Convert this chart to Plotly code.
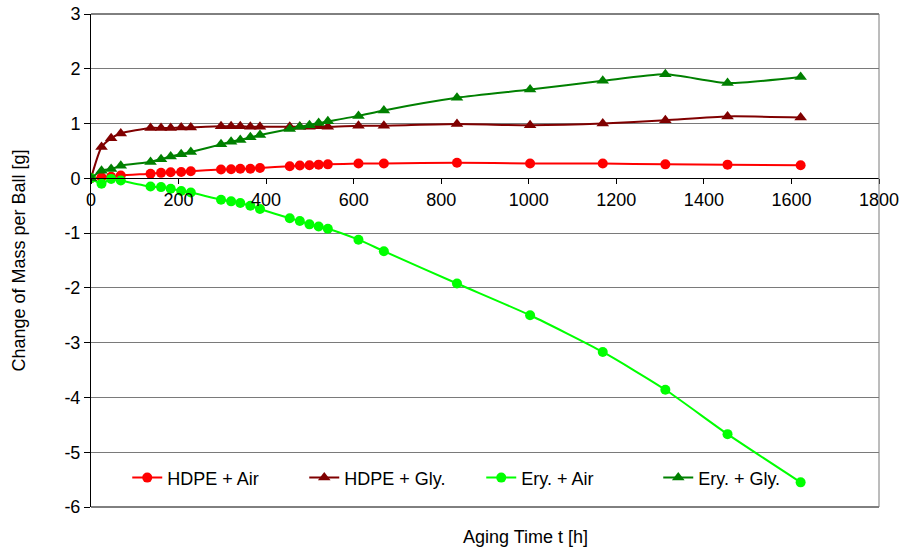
import plotly.graph_objects as go

time_h = [0, 24, 46, 68, 136, 160, 182, 206, 228, 297, 320, 341, 364, 386,
          454, 477, 499, 520, 541, 611, 669, 836, 1003, 1169, 1312, 1454, 1621]

hdpe_air = [0, 0.02, 0.03, 0.05, 0.085, 0.10, 0.11, 0.115, 0.13, 0.16, 0.165, 0.175, 0.175, 0.19,
            0.22, 0.235, 0.24, 0.25, 0.255, 0.27, 0.27, 0.285, 0.27, 0.27, 0.255, 0.25, 0.24]

hdpe_gly = [0, 0.57, 0.73, 0.82, 0.92, 0.92, 0.92, 0.93, 0.93, 0.95, 0.95, 0.95, 0.94, 0.94,
            0.94, 0.94, 0.94, 0.95, 0.94, 0.96, 0.96, 0.99, 0.97, 1.00, 1.06, 1.13, 1.11]

ery_air = [0, -0.10, -0.01, -0.04, -0.15, -0.16, -0.19, -0.23, -0.26, -0.39, -0.42, -0.45, -0.50, -0.56,
           -0.73, -0.78, -0.84, -0.88, -0.92, -1.12, -1.33, -1.92, -2.50, -3.17, -3.86, -4.67, -5.55]

ery_gly = [0, 0.14, 0.17, 0.23, 0.30, 0.35, 0.40, 0.44, 0.48, 0.62, 0.67, 0.70, 0.75, 0.79,
           0.90, 0.94, 0.97, 1.01, 1.04, 1.14, 1.24, 1.47, 1.62, 1.78, 1.90, 1.74, 1.85]

series_names = ["HDPE + Air", "HDPE + Gly.", "Ery. + Air", "Ery. + Gly."]
series_values = [hdpe_air, hdpe_gly, ery_air, ery_gly]
series_colors = ["#FF0000", "#800000", "#00FF00", "#008000"]
series_symbols = ["circle", "triangle-up", "circle", "triangle-up"]

x_ticks = [0, 200, 400, 600, 800, 1000, 1200, 1400, 1600, 1800]
y_ticks = [-6, -5, -4, -3, -2, -1, 0, 1, 2, 3]

FONT = "Liberation Sans, Arial, sans-serif"
FS = 18

fig = go.Figure()
for name, vals, col, sym in zip(series_names, series_values, series_colors, series_symbols):
    fig.add_trace(go.Scatter(
        x=time_h, y=vals, name=name, mode="lines+markers",
        line=dict(color=col, width=2, shape="spline", smoothing=0.6),
        marker=dict(color=col, symbol=sym, size=10 if sym == "circle" else 11),
    ))

fig.update_layout(
    width=904, height=552,
    margin=dict(l=91, r=25, t=14, b=45),
    paper_bgcolor="white", plot_bgcolor="white",
    font=dict(family=FONT, size=FS, color="black"),
    showlegend=True,
    legend=dict(orientation="h", x=0.046, y=0.059, xanchor="left", yanchor="middle",
                bgcolor="rgba(0,0,0,0)", font=dict(size=FS), entrywidth=132,
                itemwidth=30, tracegroupgap=0),
    xaxis=dict(range=[0, 1800], tickvals=x_ticks, ticktext=[str(v) for v in x_ticks],
               anchor="free", position=6/9, showline=True, linecolor="black", linewidth=1,
               ticks="outside", ticklen=5, tickcolor="black", showgrid=False, zeroline=False,
               automargin=False, tickfont=dict(size=FS, family=FONT)),
    yaxis=dict(range=[-6, 3], tickvals=y_ticks, ticktext=[str(v) for v in y_ticks],
               showline=True, linecolor="black", linewidth=1, ticks="outside", ticklen=6,
               tickcolor="black", showgrid=True, gridcolor="#7a7a7a", gridwidth=1,
               zeroline=False, automargin=False, tickfont=dict(size=FS, family=FONT)),
    shapes=[
        dict(type="line", xref="paper", yref="paper", x0=0, x1=1, y0=1, y1=1,
             line=dict(color="black", width=1)),
        dict(type="line", xref="paper", yref="paper", x0=0, x1=1, y0=0, y1=0,
             line=dict(color="black", width=1)),
        dict(type="line", xref="paper", yref="paper", x0=1, x1=1, y0=0, y1=1,
             line=dict(color="#7a7a7a", width=1)),
    ],
    annotations=[
        dict(text="Aging Time t [h]", xref="paper", yref="paper", x=0.551, y=-0.061,
             xanchor="center", yanchor="middle", showarrow=False, font=dict(size=FS)),
        dict(text="Change of Mass per Ball [g]", xref="paper", yref="paper", x=-0.0926, y=0.5,
             xanchor="center", yanchor="middle", textangle=-90, showarrow=False,
             font=dict(size=FS)),
    ],
)

fig.write_html("out.html", config={"displayModeBar": False},
               post_script="document.body.style.margin='0px';")
